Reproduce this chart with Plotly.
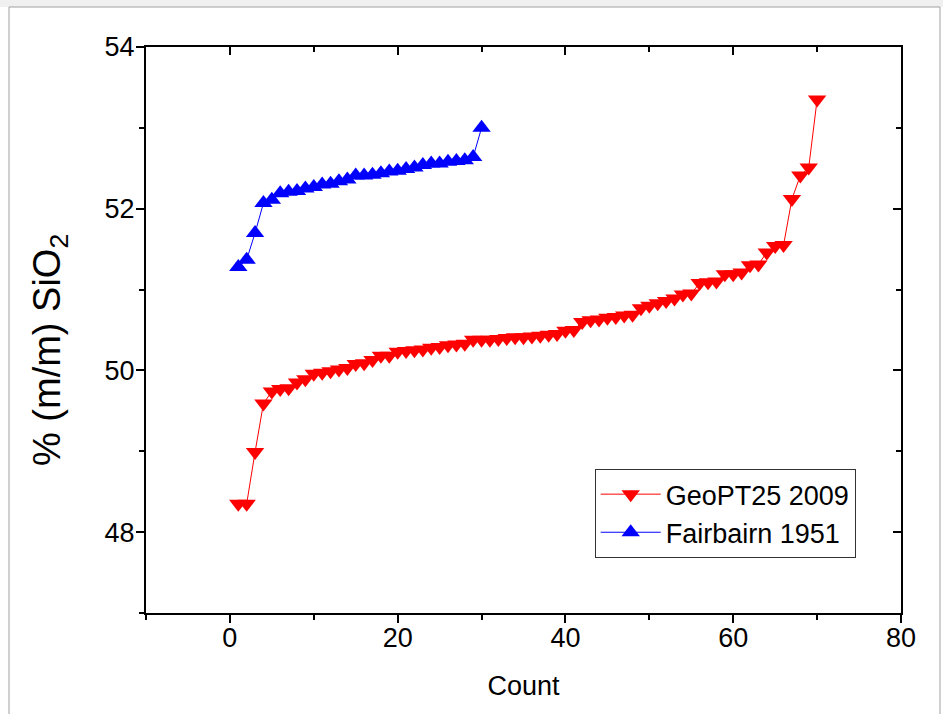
import plotly.graph_objects as go

# ---- data ----
geopt_count = list(range(1, 71))
geopt_sio2 = [
    48.35, 48.35, 48.99, 49.59, 49.74, 49.77, 49.78, 49.85, 49.89, 49.96,
    49.97, 49.99, 50.01, 50.03, 50.08, 50.09, 50.13, 50.18, 50.18, 50.23,
    50.24, 50.25, 50.26, 50.28, 50.29, 50.31, 50.32, 50.33, 50.38, 50.38,
    50.38, 50.39, 50.40, 50.41, 50.41, 50.42, 50.43, 50.44, 50.45, 50.49,
    50.50, 50.60, 50.62, 50.63, 50.65, 50.66, 50.68, 50.69, 50.77, 50.80,
    50.83, 50.86, 50.89, 50.94, 50.95, 51.08, 51.09, 51.10, 51.19, 51.19,
    51.21, 51.30, 51.31, 51.46, 51.54, 51.55, 52.12, 52.41, 52.51, 53.35,
]
fair_count = list(range(1, 31))
fair_sio2 = [
    51.28, 51.37, 51.70, 52.07, 52.11, 52.19, 52.21, 52.22, 52.25, 52.27,
    52.30, 52.31, 52.34, 52.36, 52.41, 52.41, 52.42, 52.44, 52.46, 52.47,
    52.49, 52.51, 52.54, 52.56, 52.56, 52.58, 52.59, 52.60, 52.64, 53.00,
]
series_names = ["GeoPT25 2009", "Fairbairn 1951"]
x_range = [-10, 80]
y_range = [47, 54]
x_title = "Count"
y_title = "% (m/m) SiO<sub>2</sub>"

FONT = "Liberation Sans, Arial, sans-serif"
W, H = 943, 714
ML, MR, MT, MB = 146, 42, 47, 101
PW, PH = W - ML - MR, H - MT - MB

def px_x(p):
    return (p - ML) / PW

def px_y(p):
    return 1 - (p - MT) / PH

fig = go.Figure()
fig.add_trace(go.Scatter(
    x=geopt_count, y=geopt_sio2, name=series_names[0], mode="lines+markers",
    line=dict(color="#ff0000", width=1),
    marker=dict(symbol="triangle-down", size=16, color="#ff0000"),
))
fig.add_trace(go.Scatter(
    x=fair_count, y=fair_sio2, name=series_names[1], mode="lines+markers",
    line=dict(color="#0000ff", width=1),
    marker=dict(symbol="triangle-up", size=16, color="#0000ff"),
))
# invisible helper so the mirrored (top/right) frame axes get drawn
fig.add_trace(go.Scatter(
    x=x_range, y=y_range, xaxis="x2", yaxis="y2", mode="markers",
    marker=dict(opacity=0), showlegend=False, hoverinfo="skip",
))

axis_common = dict(
    showline=True, linecolor="black", linewidth=2, showgrid=False, zeroline=False,
    tickcolor="black", tickwidth=2, ticklen=8,
    tickfont=dict(family=FONT, size=27, color="black"),
)

fig.update_layout(
    width=W, height=H,
    margin=dict(l=ML, r=MR, t=MT, b=MB),
    paper_bgcolor="white", plot_bgcolor="white",
    font=dict(family=FONT, color="black"),
    showlegend=True,
    legend=dict(
        x=0.94, y=0.097, xanchor="right", yanchor="bottom",
        bgcolor="white", bordercolor="#333333", borderwidth=1,
        font=dict(family=FONT, size=27, color="black"),
        itemwidth=60, tracegroupgap=0,
    ),
    xaxis=dict(
        range=x_range, dtick=20, tick0=0, ticks="outside", ticklabelstandoff=-8,
        minor=dict(dtick=10, tick0=0, ticks="outside", ticklen=5, tickwidth=2, tickcolor="black"),
        title=dict(text=x_title, font=dict(family=FONT, size=27), standoff=24),
        **axis_common,
    ),
    yaxis=dict(
        range=y_range, dtick=2, tick0=48, ticks="outside", ticklabelstandoff=-4,
        minor=dict(dtick=1, tick0=47, ticks="outside", ticklen=5, tickwidth=2, tickcolor="black"),
        **axis_common,
    ),
    xaxis2=dict(
        overlaying="x", anchor="y", side="top", range=x_range, dtick=20, tick0=0,
        ticks="inside", showticklabels=False,
        minor=dict(dtick=10, tick0=0, ticks="inside", ticklen=5, tickwidth=2, tickcolor="black"),
        **axis_common,
    ),
    yaxis2=dict(
        overlaying="y", anchor="x", side="right", range=y_range, dtick=2, tick0=48,
        ticks="inside", showticklabels=False,
        minor=dict(dtick=1, tick0=47, ticks="inside", ticklen=5, tickwidth=2, tickcolor="black"),
        **axis_common,
    ),
)

# y-axis title as a rotated annotation
fig.add_annotation(
    text=y_title, textangle=-90, xref="paper", yref="paper",
    x=px_x(50), y=px_y(350), xanchor="center", yanchor="middle",
    showarrow=False, font=dict(family=FONT, size=38, color="black"),
)

# window-like decorative frame (light gray strip on top, thin gray borders)
fig.add_shape(type="rect", xref="paper", yref="paper", layer="below",
              x0=px_x(0), x1=px_x(W), y0=px_y(7), y1=px_y(0),
              fillcolor="#f0f0f0", line=dict(width=0))
for xx in (9, 940):
    fig.add_shape(type="line", xref="paper", yref="paper",
                  x0=px_x(xx), x1=px_x(xx), y0=px_y(H), y1=px_y(7),
                  line=dict(color="#a0a0a0", width=1))
fig.add_shape(type="line", xref="paper", yref="paper",
              x0=px_x(9), x1=px_x(940), y0=px_y(7), y1=px_y(7),
              line=dict(color="#a0a0a0", width=1))

fig.write_html(
    "out.html",
    config={"displayModeBar": False},
    post_script="document.body.style.margin='0';document.body.style.overflow='hidden';",
)
